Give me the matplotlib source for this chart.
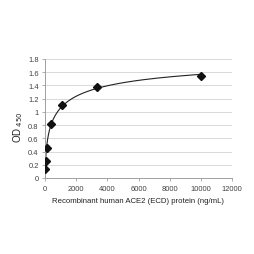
import matplotlib
matplotlib.use("Agg")
import matplotlib.pyplot as plt
import numpy as np

plt.rcParams['font.family'] = ['Liberation Sans', 'DejaVu Sans']

# concentrations (ng/mL) and OD450 readings
conc = [13.7, 41.2, 123.5, 370.4, 1111, 3333, 10000]
od = [0.14, 0.26, 0.46, 0.81, 1.11, 1.38, 1.54]

x_ticks = [0, 2000, 4000, 6000, 8000, 10000, 12000]
y_ticks = [0, 0.2, 0.4, 0.6, 0.8, 1, 1.2, 1.4, 1.6, 1.8]
y_labels = ["0", "0.2", "0.4", "0.6", "0.8", "1", "1.2", "1.4", "1.6", "1.8"]


def fit_4pl(x, y, slopes):
    # brute force over slope / midpoint, linear solve for the asymptotes
    x = np.asarray(x, float)
    y = np.asarray(y, float)
    best = None
    for b in slopes:
        for c in np.logspace(1, 6, 250):
            g = 1 / (1 + (x / c) ** b)
            A = np.column_stack([g, 1 - g])
            p, res, *_ = np.linalg.lstsq(A, y, rcond=None)
            err = np.sum((A @ p - y) ** 2)
            if best is None or err < best[0]:
                best = (err, p[0], b, c, p[1])
    return best[1:]


# shallow slope gives the long log-like tail of the trendline
a, b, c, d = fit_4pl(conc, od, np.linspace(0.3, 0.5, 21))

fig = plt.figure(figsize=(2.55, 2.55), dpi=100)
ax = fig.add_axes([45/255, 1-179/255, (232-45)/255, (179-60)/255])

xs = np.exp(np.linspace(np.log(2), np.log(conc[-1]), 400))
ax.plot(xs, d + (a - d) / (1 + (xs / c) ** b), color="#222222", lw=0.8, zorder=2)
ax.plot(conc, od, linestyle="none", marker="D", ms=3.6, color="#111111", zorder=3)

ax.set_xlim(0, 12000)
ax.set_ylim(0, 1.8)
ax.set_xticks(x_ticks)
ax.set_xticklabels([str(t) for t in x_ticks])
ax.set_yticks(y_ticks)
ax.set_yticklabels(y_labels)
ax.yaxis.grid(True, color="#d9d9d9", lw=0.7)
ax.set_axisbelow(True)
for s in ["top", "right"]:
    ax.spines[s].set_visible(False)
for s in ["left", "bottom"]:
    ax.spines[s].set_color("#a0a0a0")
    ax.spines[s].set_linewidth(0.7)
ax.tick_params(labelsize=5.4, labelcolor="#404040", color="#a0a0a0", length=2, width=0.6)
ax.tick_params(axis="x", pad=3)
ax.tick_params(axis="y", pad=2.5)
ax.set_xlabel("Recombinant human ACE2 (ECD) protein (ng/mL)", fontsize=5.6, color="#222222", labelpad=4)
fig.text(18/255, 1-127/255, "OD$_{\\ 450}$", rotation=90, fontsize=7, color="#222222",
         ha="center", va="center")

fig.savefig("out.png", dpi=100)
